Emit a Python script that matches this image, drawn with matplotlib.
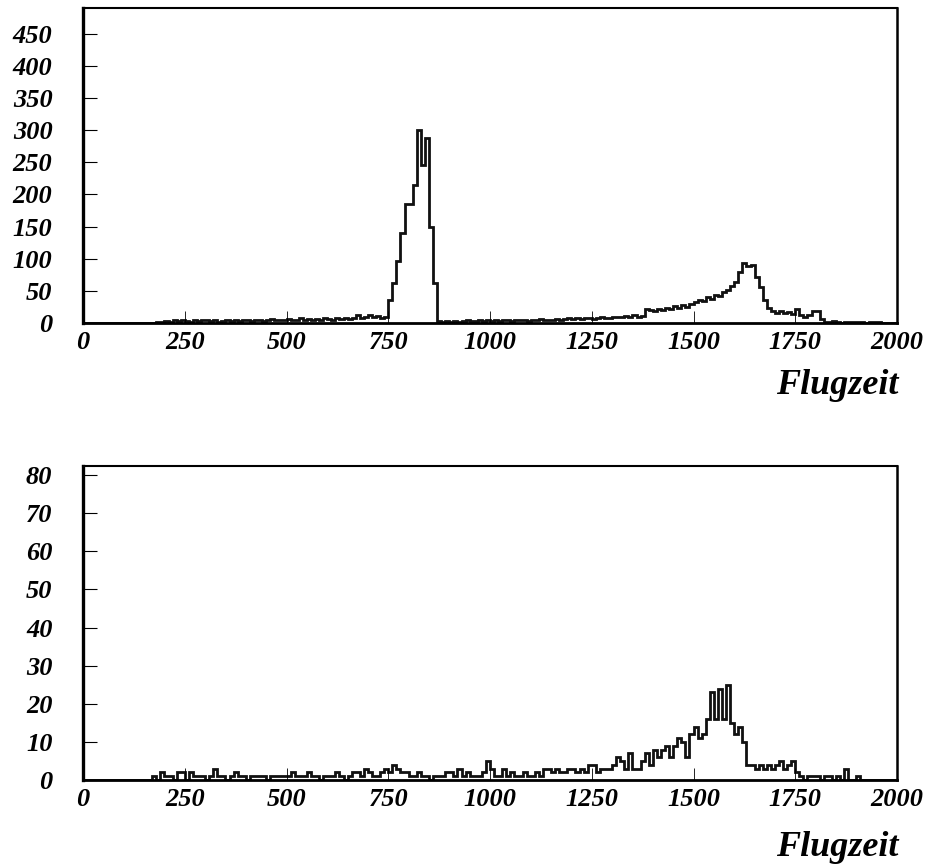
import matplotlib.pyplot as plt
import numpy as np

# bin edges: 10 units wide, 0 .. 2000
edges = np.arange(0, 2001, 10)

# upper spectrum (counts per bin), rows of 20 bins = 200 units
top_counts = [
    0, 0, 0, 0, 0, 0, 0, 0, 0, 0, 0, 0, 0, 0, 0, 0, 0, 0, 1, 2,
    3, 2, 4, 3, 5, 3, 2, 4, 3, 5, 4, 3, 4, 2, 3, 4, 3, 5, 3, 4,
    4, 3, 5, 4, 3, 4, 6, 5, 4, 5, 6, 4, 5, 7, 5, 6, 4, 6, 5, 7,
    6, 5, 7, 6, 8, 6, 7, 12, 8, 10, 12, 9, 11, 8, 10, 35, 62, 96, 140, 185,
    185, 215, 300, 245, 288, 150, 62, 3, 2, 3, 2, 3, 2, 3, 4, 3, 3, 4, 3, 4,
    3, 4, 3, 5, 4, 3, 4, 5, 4, 3, 5, 4, 6, 5, 4, 5, 6, 5, 6, 7,
    6, 7, 6, 8, 7, 6, 8, 9, 8, 7, 9, 10, 9, 11, 10, 12, 10, 11, 22, 20,
    18, 22, 20, 24, 22, 26, 24, 28, 25, 30, 32, 36, 34, 40, 38, 44, 42, 48, 52, 58,
    64, 80, 93, 88, 90, 72, 56, 36, 24, 18, 16, 18, 15, 17, 14, 22, 12, 9, 12, 18,
    19, 6, 2, 1, 3, 1, 0, 2, 1, 1, 2, 1, 0, 1, 2, 1, 0, 0, 0, 0,
]

# lower spectrum
bottom_counts = [
    0, 0, 0, 0, 0, 0, 0, 0, 0, 0, 0, 0, 0, 0, 0, 0, 0, 1, 0, 2,
    1, 1, 0, 2, 2, 0, 2, 1, 1, 1, 0, 1, 3, 1, 1, 0, 1, 2, 1, 1,
    0, 1, 1, 1, 1, 0, 1, 1, 1, 1, 1, 2, 1, 1, 1, 2, 1, 1, 0, 1,
    1, 1, 2, 1, 0, 1, 2, 2, 1, 3, 2, 1, 1, 2, 3, 2, 4, 3, 2, 2,
    1, 1, 2, 1, 1, 0, 1, 1, 1, 2, 2, 1, 3, 1, 2, 1, 1, 1, 2, 5,
    3, 1, 1, 3, 1, 2, 1, 1, 2, 1, 1, 2, 1, 3, 3, 2, 3, 2, 2, 3,
    3, 2, 3, 2, 4, 4, 2, 3, 3, 3, 4, 6, 5, 3, 7, 3, 3, 5, 7, 4,
    8, 6, 8, 9, 6, 9, 11, 10, 6, 12, 14, 11, 12, 16, 23, 16, 24, 16, 25, 15,
    12, 14, 10, 4, 4, 3, 4, 3, 4, 3, 4, 5, 3, 4, 5, 2, 1, 0, 1, 1,
    1, 0, 1, 1, 0, 1, 0, 3, 0, 0, 1, 0, 0, 0, 0, 0, 0, 0, 0, 0,
]

x_ticks = [0, 250, 500, 750, 1000, 1250, 1500, 1750, 2000]
top_yticks = [0, 50, 100, 150, 200, 250, 300, 350, 400, 450]
bottom_yticks = [0, 10, 20, 30, 40, 50, 60, 70, 80]

tick_font = dict(family="Liberation Serif", weight="bold", style="italic", size=19)

fig = plt.figure(figsize=(9.31, 8.68), dpi=100)
ax1 = fig.add_axes([0.0892, 0.6279, 0.8743, 0.3629])
ax2 = fig.add_axes([0.0892, 0.1014, 0.8743, 0.3617])

for ax, counts, yticks, ymax in [(ax1, top_counts, top_yticks, 490),
                                 (ax2, bottom_counts, bottom_yticks, 82.4)]:
    ax.stairs(counts, edges, color="#111111", linewidth=2.0)
    ax.set_xlim(0, 2000)
    ax.set_ylim(0, ymax)
    ax.set_xticks(x_ticks)
    ax.set_yticks(yticks)
    ax.set_xticklabels([str(t) for t in x_ticks], fontdict=tick_font)
    ax.set_yticklabels([str(t) for t in yticks], fontdict=tick_font)
    ax.tick_params(axis="y", direction="in", length=10, width=0.8, pad=22)
    ax.tick_params(axis="x", direction="in", length=9, width=0.6, pad=6)
    for side, lw in [("left", 2.4), ("right", 1.8), ("top", 1.5), ("bottom", 2.0)]:
        ax.spines[side].set_linewidth(lw)

label_font = dict(family="Liberation Serif", weight="bold", style="italic", size=26)
fig.text(0.965, 1 - 385 / 868, "Flugzeit", ha="right", va="center", **label_font)
fig.text(0.965, 1 - 847 / 868, "Flugzeit", ha="right", va="center", **label_font)

plt.savefig("out.png")
